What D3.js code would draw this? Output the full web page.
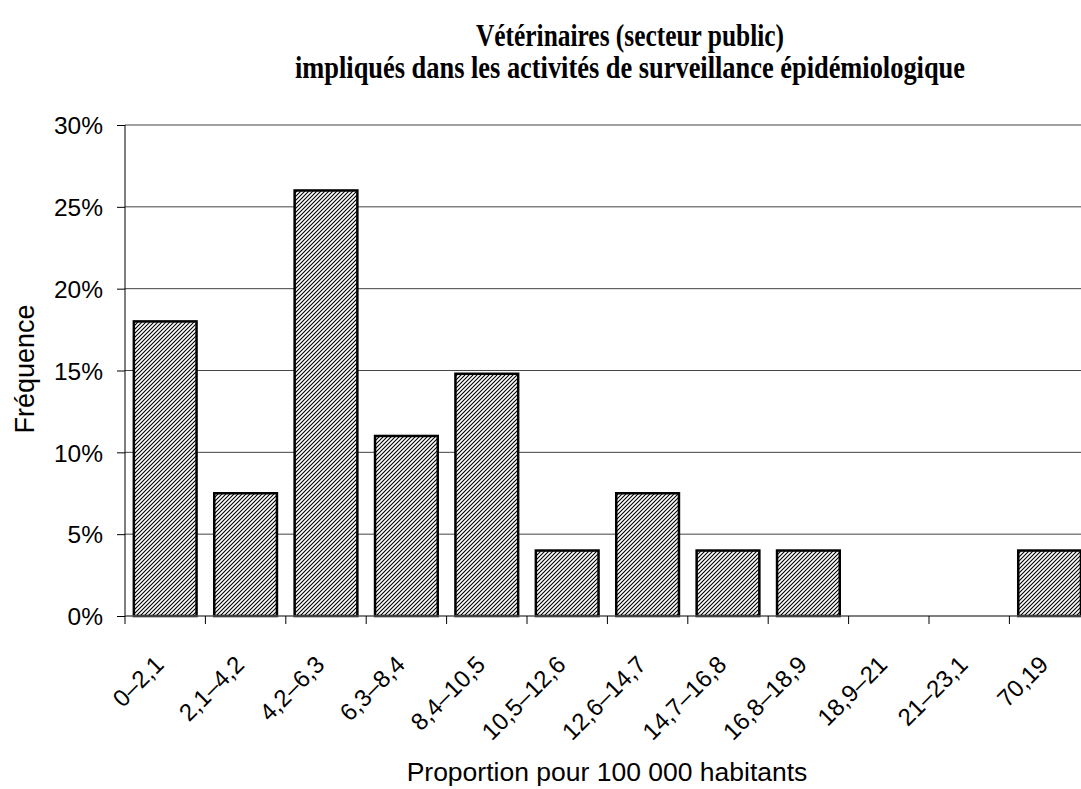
<!DOCTYPE html>
<html><head><meta charset="utf-8">
<script src="https://cdn.jsdelivr.net/npm/d3@7"></script>
<style>body{margin:0;background:#fff}svg{display:block}</style>
</head><body>
<script>
const categories = ["0–2,1","2,1–4,2","4,2–6,3","6,3–8,4","8,4–10,5","10,5–12,6","12,6–14,7","14,7–16,8","16,8–18,9","18,9–21","21–23,1","70,19"];
const values = [18, 7.5, 26, 11, 14.8, 4, 7.5, 4, 4, 0, 0, 4];
const yTicks = [0, 5, 10, 15, 20, 25, 30];
const titleLines = ["Vétérinaires (secteur public)", "impliqués dans les activités de surveillance épidémiologique"];
const yTitle = "Fréquence";
const xTitle = "Proportion pour 100 000 habitants";

const W = 1081, H = 789;
const svg = d3.select("body").append("svg").attr("width", W).attr("height", H);
const defs = svg.append("defs");
const pat = defs.append("pattern").attr("id","hatch").attr("patternUnits","userSpaceOnUse")
  .attr("width",4).attr("height",4);
pat.append("rect").attr("width",4).attr("height",4).attr("fill","#fff");
pat.append("path").attr("d","M-1,1 l2,-2 M0,4 l4,-4 M3,5 l2,-2").attr("stroke","#000").attr("stroke-width",1.1);

const mLeft = 125, mTop = 125, mBottom = 616;
const step = 80.4;
const x = d3.scaleBand().domain(categories).range([mLeft, mLeft + step*categories.length]).paddingInner(0.22).paddingOuter(0.11);
const y = d3.scaleLinear().domain([0,30]).range([mBottom, mTop]);

// gridlines
svg.append("g").selectAll("line").data(yTicks.filter(d=>d>0)).join("line")
  .attr("x1", mLeft).attr("x2", mLeft + step*categories.length)
  .attr("y1", d=>y(d)).attr("y2", d=>y(d)).attr("stroke","#444").attr("stroke-width",1);

// bars
svg.append("g").selectAll("rect").data(values.map((v,i)=>({c:categories[i],v}))).join("rect")
  .attr("x", d=>x(d.c)).attr("width", x.bandwidth())
  .attr("y", d=>y(d.v)).attr("height", d=>y(0)-y(d.v))
  .attr("fill","url(#hatch)").attr("stroke", d=>d.v>0?"#000":"none").attr("stroke-width",2.5);

// y axis
const yAxis = d3.axisLeft(y).tickValues(yTicks).tickSize(8).tickPadding(14).tickFormat(d=>d+"%");
const gy = svg.append("g").attr("transform",`translate(${mLeft},0)`).call(yAxis);
gy.select(".domain").attr("d",`M0,${mTop}V${mBottom}`).attr("stroke","#000");
gy.selectAll("line").attr("stroke","#000");
gy.selectAll("text").attr("font-family","Liberation Sans, Arial, sans-serif").attr("font-size",24.5).attr("fill","#000").attr("dy","0.36em");

// x axis
const xLine = svg.append("g");
xLine.append("line").attr("x1",mLeft).attr("x2",mLeft+step*categories.length).attr("y1",mBottom).attr("y2",mBottom).attr("stroke","#555").attr("stroke-width",1.5);
const bounds = d3.range(categories.length+1).map(i=>mLeft+i*step);
xLine.selectAll(".tk").data(bounds).join("line").attr("class","tk")
  .attr("x1",d=>d).attr("x2",d=>d).attr("y1",mBottom).attr("y2",mBottom+8).attr("stroke","#000");
xLine.selectAll("text").data(categories).join("text")
  .attr("transform", d=>`translate(${x(d)+x.bandwidth()/2},${mBottom+50}) rotate(-45)`)
  .attr("text-anchor","end")
  .attr("font-family","Liberation Sans, Arial, sans-serif").attr("font-size",24).text(d=>d);

// titles
const titleWidths = [308, 670];
svg.append("g").selectAll("text").data(titleLines).join("text")
  .attr("x",630).attr("y",(d,i)=>46+i*32).attr("text-anchor","middle")
  .attr("textLength",(d,i)=>titleWidths[i]).attr("lengthAdjust","spacingAndGlyphs")
  .attr("font-family","Liberation Serif, Times New Roman, serif").attr("font-weight","bold").attr("font-size",31)
  .text(d=>d);
svg.append("text").attr("transform",`translate(34,369) rotate(-90)`).attr("text-anchor","middle")
  .attr("font-family","Liberation Sans, Arial, sans-serif").attr("font-size",27).text(yTitle);
svg.append("text").attr("x",607).attr("y",781).attr("text-anchor","middle")
  .attr("font-family","Liberation Sans, Arial, sans-serif").attr("font-size",26.5).text(xTitle);
</script>
</body></html>
